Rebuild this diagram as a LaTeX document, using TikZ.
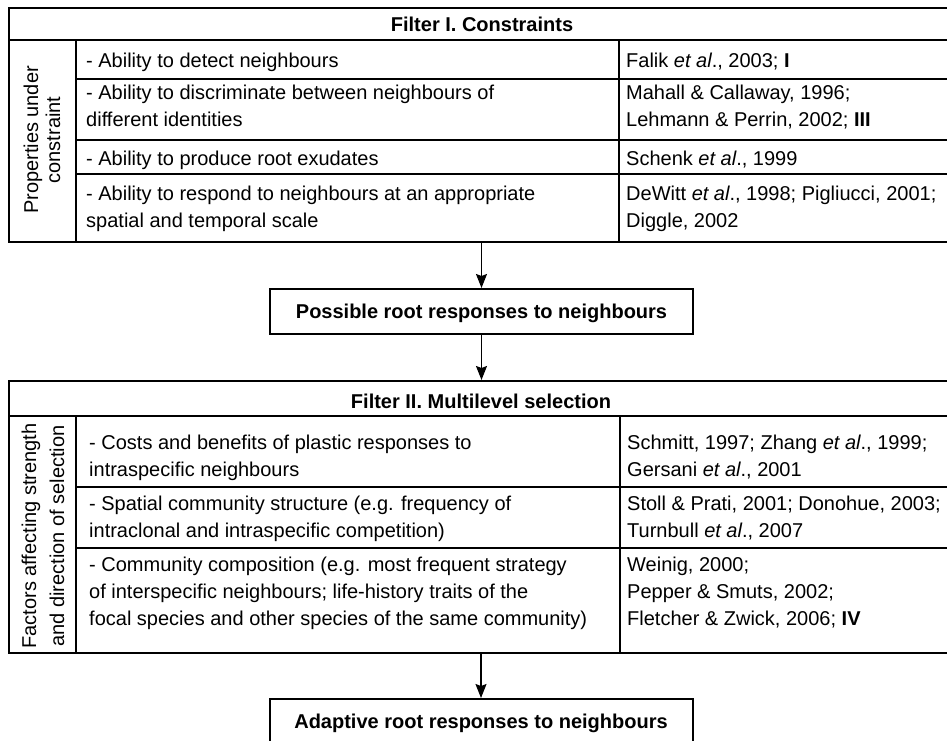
\documentclass[tikz,border=0pt]{standalone}
\usepackage{fontspec}
\setmainfont{Liberation Sans}
\usetikzlibrary{arrows.meta}
\begin{document}
\begin{tikzpicture}[x=1pt,y=-1pt,
  font=\fontsize{20}{27}\selectfont,
  tablebox/.style={draw, line width=2pt, anchor=north west, inner sep=0pt, minimum width=948pt},
  thickrule/.style={line width=2pt},
  rule/.style={line width=1.4pt},
  cell/.style={anchor=base west, inner sep=0pt, align=left},
  hdr/.style={anchor=base, inner sep=0pt, font=\fontsize{20}{27}\selectfont\bfseries},
  vlabel/.style={rotate=90, inner sep=0pt, align=center},
  flowbox/.style={draw, line width=2pt, minimum width=423pt, minimum height=45pt, inner sep=0pt,
    text height=14.3pt, text depth=0pt, font=\fontsize{20}{27}\selectfont\bfseries},
  arr/.style={line width=1.2pt, -{Stealth[length=14pt,width=11pt,inset=2pt]}}
]
\useasboundingbox (0,0) rectangle (947,741);

% ---------- Table 1 ----------
\node[tablebox, minimum height=234pt] (T1) at (8,7) {};
\draw[thickrule] (8,40) -- (956,40);
\draw[rule] (76,79) -- (956,79);
\draw[rule] (76,140) -- (956,140);
\draw[rule] (76,174) -- (956,174);
\draw[rule] (76,40) -- (76,241);
\draw[rule] (619,40) -- (619,241);

\node[hdr] (h1) at (482,32) {Filter I. Constraints};
\node[vlabel, font=\fontsize{20}{22}\selectfont] (v1) at (42,140) {Properties under\\constraint};

\node[cell] (c11) at (86,68) {- Ability to detect neighbours};
\node[cell] (c12) at (86,127) {- Ability to discriminate between neighbours of\\different identities};
\node[cell] (c13) at (86,165) {- Ability to produce root exudates};
\node[cell] (c14) at (86,227) {- Ability to respond to neighbours at an appropriate\\spatial and temporal scale};

\node[cell] (r11) at (626,68) {Falik \textit{et al}., 2003; \textbf{I}};
\node[cell] (r12) at (626,127) {Mahall \& Callaway, 1996;\\Lehmann \& Perrin, 2002; \textbf{III}};
\node[cell] (r13) at (626,165) {Schenk \textit{et al}., 1999};
\node[cell] (r14) at (626,227) {DeWitt \textit{et al}., 1998; Pigliucci, 2001;\\Diggle, 2002};

% ---------- Box 1 ----------
\node[flowbox] (P) at (481.5,311.5) {Possible root responses to neighbours};

% ---------- Table 2 ----------
\node[tablebox, minimum height=272pt] (T2) at (8,380) {};
\draw[thickrule] (8,416) -- (956,416);
\draw[rule] (76,487) -- (956,487);
\draw[rule] (76,548) -- (956,548);
\draw[rule] (76,416) -- (76,652);
\draw[rule] (620,416) -- (620,652);

\node[hdr] (h2) at (481,408) {Filter II. Multilevel selection};
\node[vlabel, font=\fontsize{20}{28}\selectfont] (v2) at (43,536) {Factors affecting strength\\and direction of selection};

\node[cell] (c21) at (89,476) {- Costs and benefits of plastic responses to\\intraspecific neighbours};
\node[cell] (c22) at (89,537) {- Spatial community structure (e.g. frequency of\\intraclonal and intraspecific competition)};
\node[cell] (c23) at (89,625) {- Community composition (e.g. most frequent strategy\\of interspecific neighbours; life-history traits of the\\focal species and other species of the same community)};

\node[cell] (r21) at (627,476) {Schmitt, 1997; Zhang \textit{et al}., 1999;\\Gersani \textit{et al}., 2001};
\node[cell] (r22) at (627,537) {Stoll \& Prati, 2001; Donohue, 2003;\\Turnbull \textit{et al}., 2007};
\node[cell] (r23) at (627,625) {Weinig, 2000;\\Pepper \& Smuts, 2002;\\Fletcher \& Zwick, 2006; \textbf{IV}};

% ---------- Box 2 ----------
\node[flowbox] (A) at (481,721.5) {Adaptive root responses to neighbours};

% ---------- Arrows ----------
\draw[arr] (T1.south -| P.north) -- (P.north);
\draw[arr] (P.south) -- (P.south |- T2.north);
\draw[arr] (T2.south -| A.north) -- (A.north);
\end{tikzpicture}
\end{document}
